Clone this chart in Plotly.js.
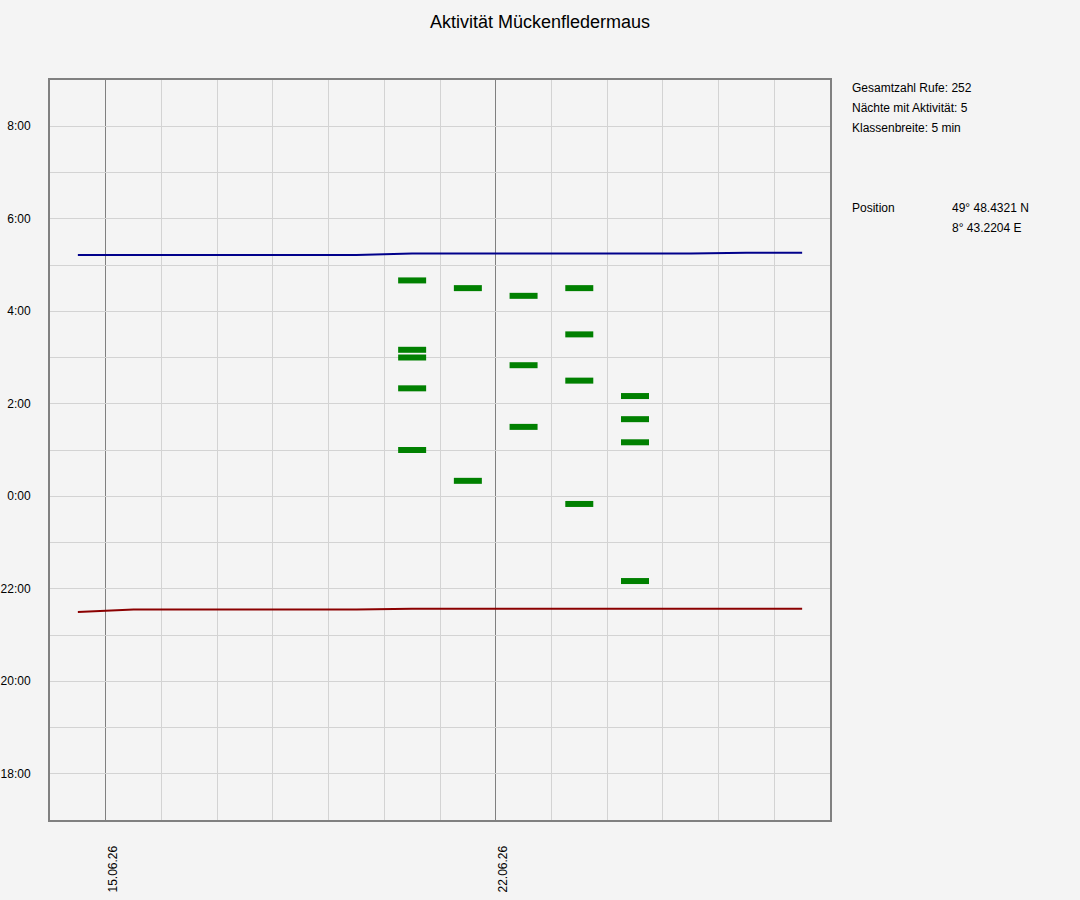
<!DOCTYPE html>
<html>
<head>
<meta charset="utf-8">
<script src="https://cdn.plot.ly/plotly-3.0.1.min.js"></script>
<style>
  html, body { margin: 0; padding: 0; background: #f4f4f4; }
  #chart { width: 1080px; height: 900px; }
</style>
</head>
<body>
<div id="chart"></div>
<script>
// ---- data ----
const chartTitle = 'Aktivität Mückenfledermaus';

// days (evening of the night) at midday
const sunDays = ['2026-06-14 12:00','2026-06-15 12:00','2026-06-16 12:00','2026-06-17 12:00',
                 '2026-06-18 12:00','2026-06-19 12:00','2026-06-20 12:00','2026-06-21 12:00',
                 '2026-06-22 12:00','2026-06-23 12:00','2026-06-24 12:00','2026-06-25 12:00',
                 '2026-06-26 12:00','2026-06-27 12:00'];
const sunset  = ['21:30','21:33','21:33','21:33','21:33','21:33','21:34','21:34',
                 '21:34','21:34','21:34','21:34','21:34','21:34'];
const sunrise = ['05:13','05:13','05:13','05:13','05:13','05:13','05:15','05:15',
                 '05:15','05:15','05:15','05:15','05:16','05:16'];

// activity classes (5 min) per night
const actNights = ['2026-06-20 12:00','2026-06-20 12:00','2026-06-20 12:00','2026-06-20 12:00','2026-06-20 12:00',
                   '2026-06-21 12:00','2026-06-21 12:00',
                   '2026-06-22 12:00','2026-06-22 12:00','2026-06-22 12:00',
                   '2026-06-23 12:00','2026-06-23 12:00','2026-06-23 12:00','2026-06-23 12:00',
                   '2026-06-24 12:00','2026-06-24 12:00','2026-06-24 12:00','2026-06-24 12:00'];
const actTimes  = ['04:40','03:10','03:00','02:20','01:00',
                   '04:30','00:20',
                   '04:20','02:50','01:30',
                   '04:30','03:30','02:30','23:50',
                   '02:10','01:40','01:10','22:10'];

// y axis ticks (hours on a 17..33 scale, 24 = midnight)
const yTickVals  = [18,19,20,21,22,23,24,25,26,27,28,29,30,31,32];
const yTickText  = ['18:00','','20:00','','22:00','','0:00','','2:00','','4:00','','6:00','','8:00'];

const infoLines = ['Gesamtzahl Rufe: 252','Nächte mit Aktivität: 5','Klassenbreite: 5 min'];
const posLabel = 'Position';
const posLines = ['49° 48.4321 N','8° 43.2204 E'];

// ---- helpers ----
function toHours(s) {
  const p = s.split(':');
  let h = parseInt(p[0], 10) + parseInt(p[1], 10) / 60;
  if (h < 12) h += 24;
  return h;
}

const FONT = 'Liberation Sans, Arial, sans-serif';

const traces = [
  {
    x: sunDays, y: sunset.map(toHours), type: 'scatter', mode: 'lines',
    line: { color: '#8b0000', width: 2 }, hoverinfo: 'skip'
  },
  {
    x: sunDays, y: sunrise.map(toHours), type: 'scatter', mode: 'lines',
    line: { color: '#00008b', width: 2 }, hoverinfo: 'skip'
  },
  {
    x: actNights, y: actTimes.map(toHours), type: 'scatter', mode: 'markers',
    marker: { symbol: 'line-ew', size: 20, color: '#008000',
              line: { color: '#008000', width: 6 } },
    hoverinfo: 'skip'
  }
];

const annotations = [];
const infoY = [0.98959, 0.96176, 0.93554];
infoLines.forEach((t, i) => annotations.push({
  text: t, xref: 'paper', yref: 'paper', x: 1.0256, y: infoY[i],
  xanchor: 'left', yanchor: 'middle', showarrow: false,
  font: { family: FONT, size: 12, color: '#000' }
}));
annotations.push({
  text: posLabel, xref: 'paper', yref: 'paper', x: 1.0256, y: 0.82743,
  xanchor: 'left', yanchor: 'middle', showarrow: false,
  font: { family: FONT, size: 12, color: '#000' }
});
const posY = [0.82743, 0.80041];
posLines.forEach((t, i) => annotations.push({
  text: t, xref: 'paper', yref: 'paper', x: 1.1538, y: posY[i],
  xanchor: 'left', yanchor: 'middle', showarrow: false,
  font: { family: FONT, size: 12, color: '#000' }
}));

const layout = {
  width: 1080, height: 900,
  margin: { l: 50, r: 250, t: 80, b: 80, pad: 0 },
  paper_bgcolor: '#f4f4f4', plot_bgcolor: '#f4f4f4',
  showlegend: false,
  hovermode: false,
  title: {
    text: chartTitle, xref: 'container', x: 0.5, xanchor: 'center',
    yref: 'container', y: 0.9756, yanchor: 'middle',
    font: { family: FONT, size: 18, color: '#000' }
  },
  xaxis: {
    type: 'date',
    range: ['2026-06-14', '2026-06-28'],
    tick0: '2026-06-15', dtick: 7 * 86400000,
    tickformat: '%d.%m.%y', tickangle: -90,
    ticks: '', ticklabelstandoff: 19, ticklabelshift: 7,
    tickfont: { family: FONT, size: 12, color: '#000' },
    showgrid: true, gridcolor: '#808080', gridwidth: 1,
    minor: { dtick: 86400000, tick0: '2026-06-14', showgrid: true, gridcolor: '#d3d3d3', gridwidth: 1 },
    showline: true, linecolor: '#808080', linewidth: 2, mirror: true,
    zeroline: false, fixedrange: true
  },
  yaxis: {
    range: [17, 33],
    tickmode: 'array', tickvals: yTickVals, ticktext: yTickText,
    ticks: '', ticklabelstandoff: 15,
    tickfont: { family: FONT, size: 12, color: '#000' },
    showgrid: true, gridcolor: '#d3d3d3', gridwidth: 1,
    showline: true, linecolor: '#808080', linewidth: 2, mirror: true,
    zeroline: false, fixedrange: true
  },
  annotations: annotations
};

Plotly.newPlot('chart', traces, layout, { displayModeBar: false, staticPlot: true });
</script>
</body>
</html>
